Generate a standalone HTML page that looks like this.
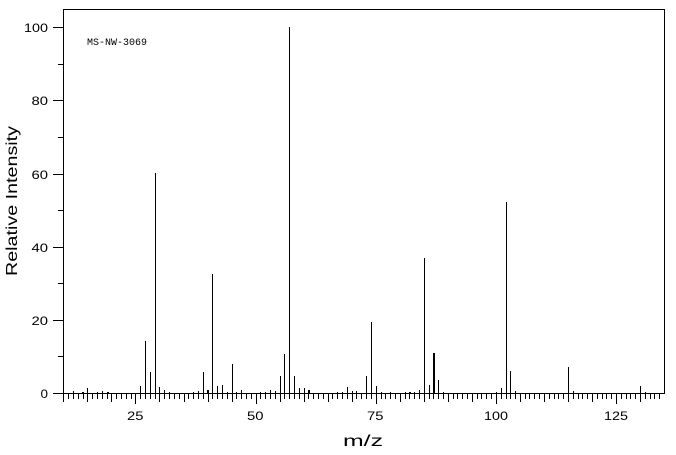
<!DOCTYPE html>
<html>
<head>
<meta charset="utf-8">
<style>
html,body{margin:0;padding:0;background:#fff;}
svg{display:block;}
text{font-family:"Liberation Sans",sans-serif;fill:#000;}
</style>
</head>
<body>
<svg width="676" height="455" viewBox="0 0 676 455" xmlns="http://www.w3.org/2000/svg">
<rect x="0" y="0" width="676" height="455" fill="#fff"/>
<g shape-rendering="crispEdges" stroke="#000" stroke-width="1" fill="none">
<path d="M63.5,9.5 H664.5 V393.5 H63.5 Z"/>
<path d="M53,27.5H63 M53,100.5H63 M53,174.5H63 M53,247.5H63 M53,320.5H63 M53,393.5H63"/>
<path d="M58,64.5H63 M58,137.5H63 M58,210.5H63 M58,283.5H63 M58,356.5H63"/>
<path d="M68.5,394V399 M73.5,394V399 M78.5,394V399 M83.5,394V399 M92.5,394V399 M97.5,394V399 M102.5,394V399 M107.5,394V399 M116.5,394V399 M121.5,394V399 M126.5,394V399 M131.5,394V399 M140.5,394V399 M145.5,394V399 M150.5,394V399 M155.5,394V399 M164.5,394V399 M169.5,394V399 M174.5,394V399 M179.5,394V399 M188.5,394V399 M193.5,394V399 M198.5,394V399 M203.5,394V399 M212.5,394V399 M217.5,394V399 M222.5,394V399 M227.5,394V399 M236.5,394V399 M241.5,394V399 M246.5,394V399 M251.5,394V399 M260.5,394V399 M265.5,394V399 M270.5,394V399 M275.5,394V399 M284.5,394V399 M289.5,394V399 M294.5,394V399 M299.5,394V399 M308.5,394V399 M313.5,394V399 M318.5,394V399 M323.5,394V399 M332.5,394V399 M337.5,394V399 M342.5,394V399 M347.5,394V399 M356.5,394V399 M361.5,394V399 M366.5,394V399 M371.5,394V399 M381.5,394V399 M385.5,394V399 M390.5,394V399 M395.5,394V399 M405.5,394V399 M409.5,394V399 M414.5,394V399 M419.5,394V399 M429.5,394V399 M433.5,394V399 M438.5,394V399 M443.5,394V399 M453.5,394V399 M457.5,394V399 M462.5,394V399 M467.5,394V399 M477.5,394V399 M481.5,394V399 M486.5,394V399 M491.5,394V399 M501.5,394V399 M506.5,394V399 M510.5,394V399 M515.5,394V399 M525.5,394V399 M529.5,394V399 M534.5,394V399 M539.5,394V399 M549.5,394V399 M554.5,394V399 M558.5,394V399 M563.5,394V399 M573.5,394V399 M578.5,394V399 M582.5,394V399 M587.5,394V399 M597.5,394V399 M602.5,394V399 M606.5,394V399 M611.5,394V399 M621.5,394V399 M626.5,394V399 M630.5,394V399 M635.5,394V399 M645.5,394V399 M650.5,394V399 M654.5,394V399 M659.5,394V399"/>
<path d="M63.5,394V402 M87.5,394V402 M111.5,394V402 M159.5,394V402 M184.5,394V402 M208.5,394V402 M232.5,394V402 M280.5,394V402 M304.5,394V402 M328.5,394V402 M352.5,394V402 M400.5,394V402 M424.5,394V402 M448.5,394V402 M472.5,394V402 M520.5,394V402 M544.5,394V402 M568.5,394V402 M592.5,394V402 M640.5,394V402"/>
<path d="M135.5,394V404 M256.5,394V404 M376.5,394V404 M496.5,394V404 M616.5,394V404"/>
<path d="
M73.5,393V391
M82.5,393V392 M83.5,393V392
M87.5,393V388
M97.5,393V392
M102.5,393V391
M107.5,393V392 M108.5,393V392
M140.5,393V386
M145.5,393V341
M150.5,393V372
M155.5,393V173
M159.5,393V387
M164.5,393V390
M169.5,393V392
M193.5,393V392
M198.5,393V391
M203.5,393V372
M207.5,393V390 M208.5,393V390
M212.5,393V274
M217.5,393V386
M222.5,393V385
M227.5,393V392
M232.5,393V364
M236.5,393V392
M241.5,393V390
M260.5,393V392
M265.5,393V392
M270.5,393V390
M275.5,393V391
M280.5,393V376
M284.5,393V354
M289.5,393V27
M294.5,393V376
M299.5,393V388
M304.5,393V388
M308.5,393V390 M309.5,393V390
M337.5,393V392
M342.5,393V392
M347.5,393V387
M352.5,393V391
M356.5,393V391
M366.5,393V376
M371.5,393V322
M376.5,393V386
M381.5,393V392
M390.5,393V392
M405.5,393V392
M409.5,393V392 M410.5,393V392
M414.5,393V392
M419.5,393V390
M424.5,393V258
M429.5,393V385
M433.5,393V353 M434.5,393V353
M438.5,393V380
M443.5,393V392
M496.5,393V392
M501.5,393V388
M506.5,393V202
M510.5,393V371
M515.5,393V391
M568.5,393V367
M573.5,393V391
M640.5,393V386
M645.5,393V392
"/>
</g>
<g font-size="12" text-anchor="end">
<text x="48" y="32" textLength="24" lengthAdjust="spacingAndGlyphs">100</text>
<text x="48" y="105" textLength="16.5" lengthAdjust="spacingAndGlyphs">80</text>
<text x="48" y="179" textLength="16.5" lengthAdjust="spacingAndGlyphs">60</text>
<text x="48" y="252" textLength="16.5" lengthAdjust="spacingAndGlyphs">40</text>
<text x="48" y="325" textLength="16.5" lengthAdjust="spacingAndGlyphs">20</text>
<text x="48" y="398" textLength="7.5" lengthAdjust="spacingAndGlyphs">0</text>
</g>
<g font-size="12">
<text x="127" y="420" textLength="16.5" lengthAdjust="spacingAndGlyphs">25</text>
<text x="247" y="420" textLength="16.5" lengthAdjust="spacingAndGlyphs">50</text>
<text x="367" y="420" textLength="16.5" lengthAdjust="spacingAndGlyphs">75</text>
<text x="484" y="420" textLength="24" lengthAdjust="spacingAndGlyphs">100</text>
<text x="604" y="420" textLength="24" lengthAdjust="spacingAndGlyphs">125</text>
</g>
<text x="343" y="446" font-size="16" textLength="40" lengthAdjust="spacingAndGlyphs">m/z</text>
<text transform="translate(17,276) rotate(-90)" x="0" y="0" font-size="16" textLength="150" lengthAdjust="spacingAndGlyphs">Relative Intensity</text>
<text x="87" y="45" font-size="10" style="font-family:'Liberation Mono',monospace" textLength="60" lengthAdjust="spacingAndGlyphs">MS-NW-3069</text>
</svg>
</body>
</html>
